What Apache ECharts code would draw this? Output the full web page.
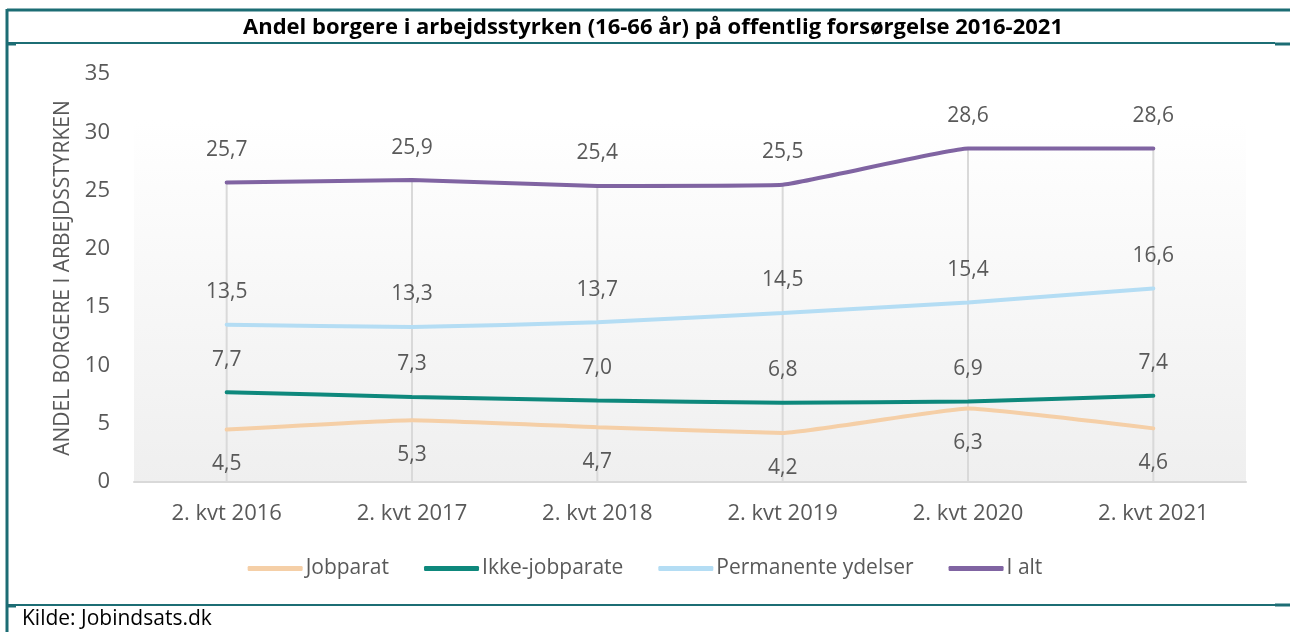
<!DOCTYPE html>
<html>
<head>
<meta charset="utf-8">
<script src="https://cdn.jsdelivr.net/npm/echarts@6/dist/echarts.min.js"></script>
<style>
  html, body { margin: 0; padding: 0; background: #fff; }
  #chart { width: 1290px; height: 632px; }
</style>
</head>
<body>
<div id="chart"></div>
<script>
const categories = ['2. kvt 2016', '2. kvt 2017', '2. kvt 2018', '2. kvt 2019', '2. kvt 2020', '2. kvt 2021'];
const jobparat = [4.5, 5.3, 4.7, 4.2, 6.3, 4.6];
const ikkeJobparate = [7.7, 7.3, 7.0, 6.8, 6.9, 7.4];
const permanente = [13.5, 13.3, 13.7, 14.5, 15.4, 16.6];
const iAlt = [25.7, 25.9, 25.4, 25.5, 28.6, 28.6];

const FONT = '"Open Sans", "Noto Sans", sans-serif';
const GREY = '#595959';
const FRAME = '#1c6d74';

// komma som decimaltegn
const fmt = p => p.value.toFixed(1).replace('.', ',');

function lineSeries(name, data, color, pos) {
    return {
        name: name,
        type: 'line',
        data: data,
        smooth: 0.1,
        symbol: 'circle',
        symbolSize: 0,
        lineStyle: { color: color, width: 4, cap: 'round' },
        itemStyle: { color: color },
        label: {
            show: true,
            position: pos,
            distance: pos === 'top' ? 22 : 24,
            formatter: fmt,
            color: GREY,
            fontSize: 21,
            fontFamily: FONT
        },
        z: 3
    };
}

const chart = echarts.init(document.getElementById('chart'));
chart.setOption({
    animation: false,
    textStyle: { fontFamily: FONT },
    title: {
        text: 'Andel borgere i arbejdsstyrken (16-66 år) på offentlig forsørgelse 2016-2021',
        left: 648,
        textAlign: 'center',
        top: 12,
        textStyle: { fontSize: 22, fontWeight: 'bold', color: '#000', fontFamily: FONT }
    },
    legend: {
        data: ['Jobparat', 'Ikke-jobparate', 'Permanente ydelser', 'I alt'],
        left: 'center',
        top: 553,
        icon: 'roundRect',
        itemWidth: 55,
        itemHeight: 5,
        itemGap: 35,
        textStyle: { color: GREY, fontSize: 21, fontFamily: FONT, padding: [0, 0, 0, -2] }
    },
    grid: { left: 134, right: 44, top: 74, bottom: 150 },
    graphic: [
        {
            type: 'rect', z: -10, silent: true,
            shape: { x: 134, y: 120, width: 1112, height: 362 },
            style: {
                fill: new echarts.graphic.LinearGradient(0, 0, 0, 1, [
                    { offset: 0, color: '#ffffff' },
                    { offset: 1, color: '#efefef' }
                ])
            }
        },
        { type: 'line', shape: { x1: 7, y1: 10, x2: 1290, y2: 10 }, style: { stroke: FRAME, lineWidth: 3 } },
        { type: 'line', shape: { x1: 7, y1: 9, x2: 7, y2: 632 }, style: { stroke: FRAME, lineWidth: 3 } },
        { type: 'line', shape: { x1: 7, y1: 43, x2: 1275, y2: 43 }, style: { stroke: FRAME, lineWidth: 2 } },
        { type: 'line', shape: { x1: 7, y1: 44, x2: 16, y2: 44 }, style: { stroke: FRAME, lineWidth: 3 } },
        { type: 'line', shape: { x1: 1275, y1: 44, x2: 1290, y2: 44 }, style: { stroke: FRAME, lineWidth: 3 } },
        { type: 'line', shape: { x1: 7, y1: 605, x2: 1275, y2: 605 }, style: { stroke: FRAME, lineWidth: 2 } },
        { type: 'line', shape: { x1: 7, y1: 606, x2: 16, y2: 606 }, style: { stroke: FRAME, lineWidth: 3 } },
        { type: 'line', shape: { x1: 1275, y1: 605, x2: 1290, y2: 605 }, style: { stroke: FRAME, lineWidth: 3 } },
        {
            type: 'text', left: 22, top: 609,
            style: { text: 'Kilde: Jobindsats.dk', fill: '#000', fontSize: 21, fontFamily: FONT }
        }
    ],
    xAxis: {
        type: 'category',
        data: categories,
        axisLine: { lineStyle: { color: '#d9d9d9', width: 2 } },
        axisTick: { show: false },
        axisLabel: { color: GREY, fontSize: 22, fontFamily: FONT, margin: 21 }
    },
    yAxis: {
        type: 'value',
        min: 0,
        max: 35,
        interval: 5,
        name: 'ANDEL BORGERE I ARBEJDSSTYRKEN',
        nameLocation: 'middle',
        nameRotate: 90,
        nameGap: 57,
        nameTextStyle: { color: GREY, fontSize: 21, fontFamily: FONT },
        splitLine: { show: false },
        axisLine: { show: false },
        axisTick: { show: false },
        axisLabel: { color: GREY, fontSize: 22, fontFamily: FONT, margin: 24 }
    },
    series: [
        {
            // lodrette linjer fra I alt ned til aksen
            name: 'drop',
            type: 'bar',
            data: iAlt,
            barWidth: 2,
            itemStyle: { color: '#d9d9d9' },
            silent: true,
            z: 1
        },
        lineSeries('Jobparat', jobparat, '#f5cfa7', 'bottom'),
        lineSeries('Ikke-jobparate', ikkeJobparate, '#0e887c', 'top'),
        lineSeries('Permanente ydelser', permanente, '#b4ddf4', 'top'),
        lineSeries('I alt', iAlt, '#8064a2', 'top')
    ]
});
</script>
</body>
</html>
